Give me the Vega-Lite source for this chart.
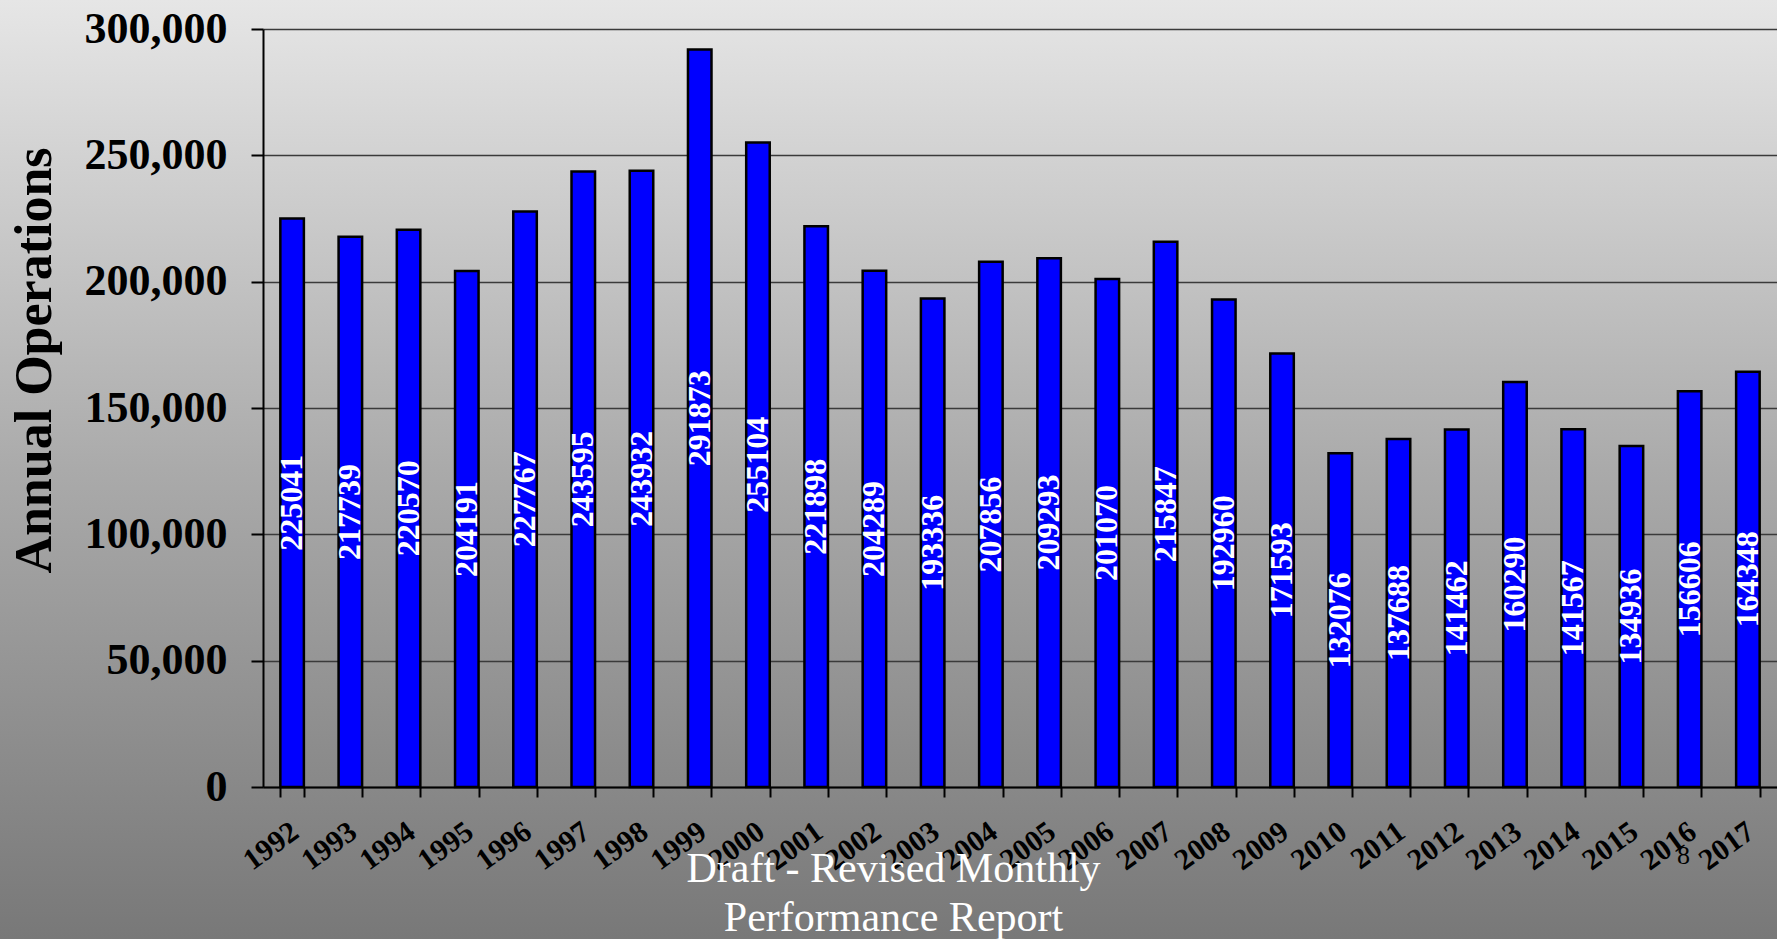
{
  "$schema": "https://vega.github.io/schema/vega-lite/v6.json",
  "width": 1777,
  "height": 939,
  "autosize": {"type": "none"},
  "padding": 0,
  "background": "#aaaaaa",
  "title": {
    "text": ["Draft - Revised Monthly", "Performance Report"],
    "orient": "bottom",
    "anchor": "middle",
    "frame": "group",
    "font": "Liberation Serif",
    "fontSize": 42,
    "fontWeight": "normal",
    "color": "white",
    "lineHeight": 49,
    "baseline": "top",
    "offset": 0,
    "dx": 5,
    "dy": -90
  },
  "data": {
    "values": [
      {"year": "1992", "ops": 225041},
      {"year": "1993", "ops": 217739},
      {"year": "1994", "ops": 220570},
      {"year": "1995", "ops": 204191},
      {"year": "1996", "ops": 227767},
      {"year": "1997", "ops": 243595},
      {"year": "1998", "ops": 243932},
      {"year": "1999", "ops": 291873},
      {"year": "2000", "ops": 255104},
      {"year": "2001", "ops": 221898},
      {"year": "2002", "ops": 204289},
      {"year": "2003", "ops": 193336},
      {"year": "2004", "ops": 207856},
      {"year": "2005", "ops": 209293},
      {"year": "2006", "ops": 201070},
      {"year": "2007", "ops": 215847},
      {"year": "2008", "ops": 192960},
      {"year": "2009", "ops": 171593},
      {"year": "2010", "ops": 132076},
      {"year": "2011", "ops": 137688},
      {"year": "2012", "ops": 141462},
      {"year": "2013", "ops": 160290},
      {"year": "2014", "ops": 141567},
      {"year": "2015", "ops": 134936},
      {"year": "2016", "ops": 156606},
      {"year": "2017", "ops": 164348}
    ]
  },
  "encoding": {
    "x": {
      "field": "year",
      "type": "ordinal",
      "scale": {"range": [263, 1777], "paddingInner": 0.596, "paddingOuter": 0.298},
      "axis": {
        "offset": -152,
        "title": "8",
        "titleX": 1683,
        "titleY": 68,
        "titleAlign": "center",
        "titleBaseline": "middle",
        "titleFont": "Liberation Serif",
        "titleFontSize": 26,
        "titleFontWeight": "normal",
        "titleColor": "black",
        "labelAngle": -36,
        "labelFont": "Liberation Serif",
        "labelFontSize": 30,
        "labelFontWeight": "bold",
        "labelColor": "black",
        "labelPadding": 19,
        "labelOffset": -6,
        "labelOverlap": false,
        "tickBand": "extent",
        "tickSize": 10,
        "tickWidth": 2,
        "tickColor": "black",
        "domainColor": "black",
        "domainWidth": 2,
        "grid": false
      }
    }
  },
  "layer": [
    {
      "mark": {"type": "bar", "fill": "#0000ff", "stroke": "black", "strokeWidth": 2.5},
      "encoding": {
        "y": {
          "field": "ops",
          "type": "quantitative",
          "scale": {"domain": [0, 300000], "range": [787, 29], "nice": false},
          "axis": {
            "offset": -263,
            "values": [0, 50000, 100000, 150000, 200000, 250000, 300000],
            "format": ",d",
            "title": "Annual Operations",
            "titleX": -229,
            "titleY": 360,
            "titleAngle": -90,
            "titleAlign": "center",
            "titleBaseline": "middle",
            "titleFont": "Liberation Serif",
            "titleFontSize": 52,
            "titleFontWeight": "bold",
            "titleColor": "black",
            "labelFont": "Liberation Serif",
            "labelFontSize": 44,
            "labelFontWeight": "bold",
            "labelColor": "black",
            "labelPadding": 24,
            "tickSize": 12,
            "tickWidth": 2,
            "tickColor": "black",
            "domainColor": "black",
            "domainWidth": 2,
            "grid": true,
            "gridColor": "#3a3a3a",
            "gridWidth": 1.5
          }
        }
      }
    },
    {
      "mark": {"type": "text", "angle": 270, "align": "center", "baseline": "middle", "font": "Liberation Serif", "fontSize": 32, "fontWeight": "bold", "fill": "white"},
      "encoding": {
        "y": {
          "field": "ops",
          "type": "quantitative",
          "scale": {"domain": [0, 600000], "range": [787, 29], "nice": false},
          "axis": null
        },
        "text": {"field": "ops", "type": "quantitative", "format": "d"}
      }
    }
  ],
  "resolve": {"scale": {"y": "independent"}},
  "config": {
    "view": {
      "stroke": null,
      "fill": {
        "gradient": "linear",
        "x1": 0, "y1": 0, "x2": 0, "y2": 1,
        "stops": [
          {"offset": 0, "color": "#e6e6e6"},
          {"offset": 0.5, "color": "#aaaaaa"},
          {"offset": 1, "color": "#787878"}
        ]
      }
    }
  }
}
